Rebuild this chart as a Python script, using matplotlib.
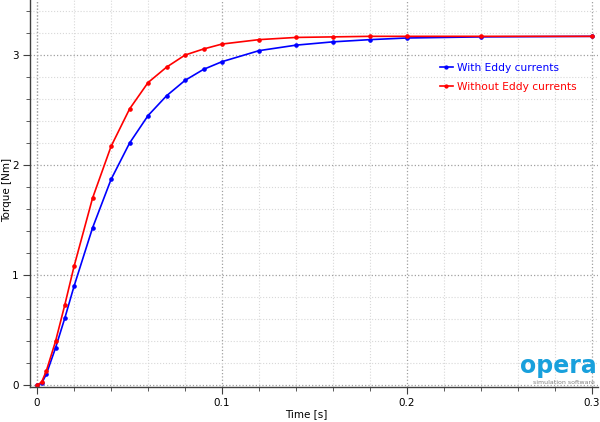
import matplotlib
matplotlib.use('Agg')
import matplotlib.pyplot as plt
from matplotlib.ticker import MultipleLocator

# data
time_s = [0, 0.0025, 0.005, 0.01, 0.015, 0.02, 0.03, 0.04, 0.05, 0.06, 0.07,
          0.08, 0.09, 0.1, 0.12, 0.14, 0.16, 0.18, 0.2, 0.24, 0.3]
torque_eddy = [0, 0.02, 0.10, 0.34, 0.61, 0.90, 1.43, 1.87, 2.20, 2.45, 2.63,
               2.77, 2.87, 2.94, 3.04, 3.09, 3.12, 3.14, 3.155, 3.165, 3.17]
torque_no_eddy = [0, 0.03, 0.13, 0.40, 0.73, 1.08, 1.70, 2.17, 2.51, 2.75, 2.89,
                  3.00, 3.055, 3.10, 3.14, 3.16, 3.165, 3.17, 3.17, 3.17, 3.17]
labels = ['With Eddy currents', 'Without Eddy currents']
x_ticks = [0, 0.1, 0.2, 0.3]
x_tick_labels = ['0', '0.1', '0.2', '0.3']

plt.rcParams['font.family'] = ['DejaVu Sans']
fig = plt.figure(figsize=(6, 4.22), dpi=100)
ax = fig.add_axes([30 / 600, 35 / 422, 568 / 600, 387 / 422])

ax.plot(time_s, torque_eddy, color='#0000ff', linewidth=1.2, marker='o', markersize=2.3,
        label=labels[0])
ax.plot(time_s, torque_no_eddy, color='#ff0000', linewidth=1.2, marker='o', markersize=2.3,
        label=labels[1])

ax.set_xlim(-0.0038, 0.3032)
ax.set_ylim(-0.015, 3.5)
ax.set_xticks(x_ticks)
ax.set_xticklabels(x_tick_labels)
ax.xaxis.set_minor_locator(MultipleLocator(0.02))
ax.yaxis.set_major_locator(MultipleLocator(1))
ax.yaxis.set_minor_locator(MultipleLocator(0.2))

ax.grid(which='major', color='#a0a0a0', linestyle=':', linewidth=0.9)
ax.grid(which='minor', color='#d8d8d8', linestyle=':', linewidth=0.8)
ax.axvline(x=0, color='#b0b0b0', linestyle=':', linewidth=0.9, zorder=0)
ax.set_axisbelow(True)

for side in ['top', 'right']:
    ax.spines[side].set_visible(False)
for side in ['left', 'bottom']:
    ax.spines[side].set_color('#404040')
    ax.spines[side].set_linewidth(1.0)
ax.tick_params(which='major', length=5, color='#404040', labelsize=7.5, pad=3)
ax.tick_params(which='minor', length=3, color='#404040')

ax.set_xlabel('Time [s]', fontsize=7.5, va='center')
ax.set_ylabel('Torque [Nm]', fontsize=7.5, va='center')
ax.xaxis.set_label_coords(0.486, -0.07)
ax.yaxis.set_label_coords(-0.041, 0.51)

leg = ax.legend(loc='upper left', bbox_to_anchor=(0.705, 0.862), frameon=False, fontsize=7.7,
                handlelength=1.2, handletextpad=0.4, labelspacing=0.8, markerscale=0.9)
for text, line in zip(leg.get_texts(), leg.get_lines()):
    text.set_color(line.get_color())

# opera logo
fig.text(0.995, 0.105, 'opera', color='#18a0dc', fontsize=17, fontweight='bold',
         ha='right', va='bottom')
fig.text(0.992, 0.088, 'simulation software', color='#808080', fontsize=4.5,
         ha='right', va='bottom')

fig.savefig('out.png', dpi=100)
